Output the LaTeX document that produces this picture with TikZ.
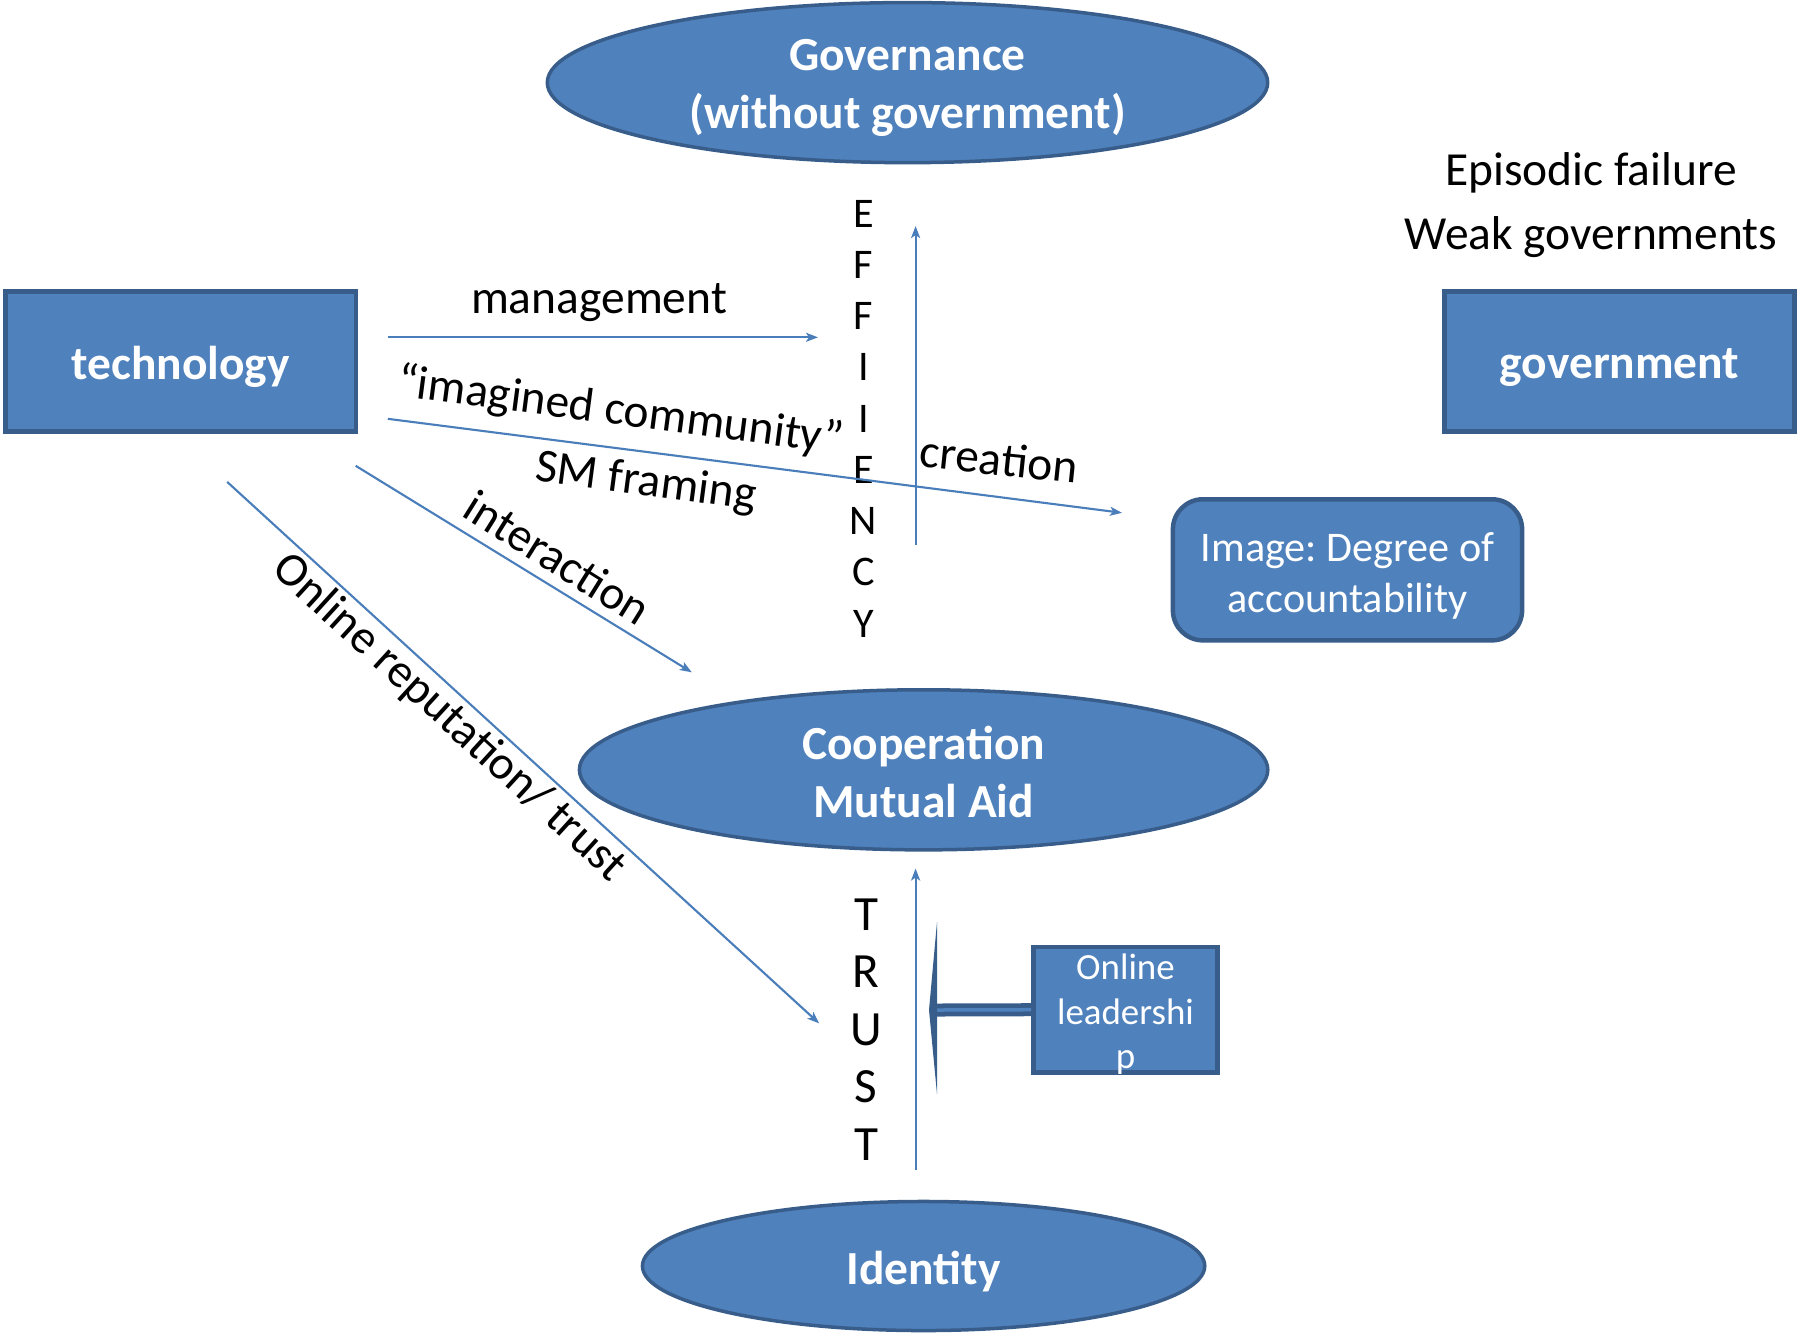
\documentclass[tikz,border=0pt]{standalone}
\usepackage{fontspec}
\setmainfont{Carlito}
\frenchspacing
\usetikzlibrary{shapes.geometric,arrows.meta}
\definecolor{fillblue}{HTML}{4F81BD}
\definecolor{edgeblue}{HTML}{385D8A}
\definecolor{lineblue}{HTML}{4A7EBB}
\tikzset{
  sqbox/.style={rectangle, fill=fillblue, draw=edgeblue, line width=0.045cm, minimum width=3.5cm, minimum height=1.4cm, inner sep=0pt},
  oval/.style={ellipse, fill=fillblue, draw=edgeblue, line width=0.035cm, inner sep=0pt},
  boldtxt/.style={text=white, font=\fontsize{13.5}{16.4}\selectfont\bfseries, align=center, inner sep=0pt},
  lbl/.style={font=\fontsize{13.5}{16.2}\selectfont, inner sep=0pt},
  conn/.style={draw=lineblue, line width=0.6pt, -{Stealth[length=0.12cm,width=0.09cm,inset=0.03cm]}},
}
\begin{document}
\begin{tikzpicture}[x=0.01cm,y=-0.01cm]
\useasboundingbox (0,0) rectangle (1799,1332);

% main ovals
\node[oval, minimum width=7.2cm, minimum height=1.6cm] (gov) at (907.5,82.6) {};
\node[boldtxt, yshift=-0.052cm] (govtxt) at (gov.center) {Governance\\(without government)};
\node[oval, minimum width=6.88cm, minimum height=1.6cm] (coop) at (923.6,769.8) {};
\node[boldtxt, yshift=-0.02cm] (cooptxt) at (coop.center) {Cooperation\\Mutual Aid};
\node[oval, minimum width=5.62cm, minimum height=1.29cm] (ident) at (923.6,1266) {};
\node[boldtxt, yshift=-0.057cm] (identtxt) at (ident.center) {Identity};

% boxes
\node[sqbox] (tech) at (180.7,361.5) {};
\node[boldtxt, yshift=-0.057cm] (techtxt) at (tech.center) {technology};
\node[sqbox] (govt) at (1619.5,361.5) {};
\node[boldtxt, yshift=-0.057cm] (govttxt) at (govt.center) {government};
\node[rectangle, rounded corners=0.3cm, fill=fillblue, draw=edgeblue, line width=0.045cm,
  minimum width=3.49cm, minimum height=1.41cm, inner sep=0pt] (img) at (1347.5,569.8) {};
\node[text=white, font=\fontsize{12}{14.5}\selectfont, align=center, inner sep=0pt, yshift=-0.057cm]
  (imgtxt) at (img.center) {Image: Degree of\\accountability};
\node[rectangle, fill=fillblue, draw=edgeblue, line width=0.045cm,
  minimum width=1.84cm, minimum height=1.25cm, inner sep=0pt] (lead) at (1125.5,1009.7) {};
\node[text=white, font=\fontsize{10.5}{12.7}\selectfont, align=center, inner sep=0pt, yshift=-0.045cm]
  (leadtxt) at (lead.center) {Online\\leadershi\\p};

% free text
\node[lbl, align=center, font=\fontsize{13.5}{18.2}\selectfont] (epi) at (1591,205) {Episodic failure\\Weak governments};

% vertical words
\node[inner sep=0pt, align=center, font=\fontsize{12}{14.57}\selectfont] (eff) at (863.5,418.5) {E\\F\\F\\I\\I\\E\\N\\C\\Y};
\node[inner sep=0pt, align=center, font=\fontsize{14}{16.33}\selectfont] (trust) at (866,1029.5) {T\\R\\U\\S\\T};

% connector end points
\coordinate (m1) at (387.8,337.3);
\coordinate (m2) at (818,337.3);
\coordinate (i1) at (387.8,418.8);
\coordinate (i2) at (1122,512.8);
\coordinate (n1) at (355.7,465.8);
\coordinate (n2) at (691.8,672.3);
\coordinate (r1) at (227.2,481.9);
\coordinate (r2) at (819.2,1023.4);
\coordinate (e1) at (915.6,545);
\coordinate (e2) at (915.6,226);
\coordinate (t1) at (915.6,1170);
\coordinate (t2) at (915.6,868.5);
\coordinate (lback) at (937,1010);
\coordinate (ltip) at (929,1010);
\coordinate (ltop) at (937,922);
\coordinate (lbot) at (937,1094);

\draw[conn] (m1) -- (m2);
\draw[conn] (i1) -- (i2);
\draw[conn] (n1) -- (n2);
\draw[conn] (r1) -- (r2);
\draw[conn] (e1) -- (e2);
\draw[conn] (t1) -- (t2);

% online leadership arrow
\draw[edgeblue, line width=0.13cm] (lead.west) -- (lback);
\draw[fillblue, line width=0.035cm] (lead.west) -- (lback);
\fill[edgeblue] (ltop) -- (ltip) -- (lbot) -- cycle;

% labels
\node[lbl] (lmanage) at (599,303) {management};
\node[lbl, rotate=-7.5] (limag) at (620.5,412) {“imagined community”};
\node[lbl, rotate=-7.5] (lsm) at (646,483) {SM framing};
\node[lbl, rotate=-32] (linter) at (557.6,557.5) {interaction};
\node[lbl, rotate=-42.4] (lrep) at (449,718) {Online reputation/ trust};
\node[lbl, rotate=-6] (lcre) at (999,459) {creation};
\end{tikzpicture}
\end{document}
